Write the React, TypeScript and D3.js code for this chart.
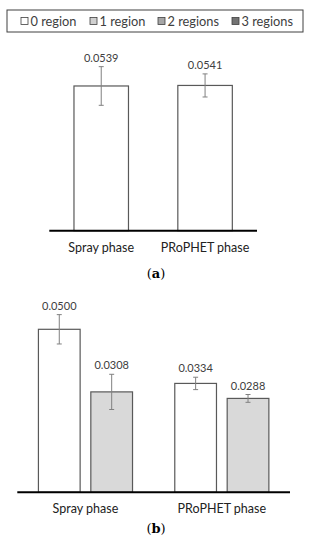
import { useEffect, useRef } from "react";
import * as d3 from "d3";

// Données
const groups = ["Spray phase", "PRoPHET phase"];
const legendLabels = ["0 region", "1 region", "2 regions", "3 regions"];
const legendColors = ["#ffffff", "#d0d0d0", "#a6a6a6", "#737373"];

// (a) : une seule série
const valuesA0 = [0.0539, 0.0541];
const errorsA0 = [0.0072, 0.0043];

// (b) : deux séries
const valuesB0 = [0.05, 0.0334];
const errorsB0 = [0.0045, 0.0019];
const valuesB1 = [0.0308, 0.0288];
const errorsB1 = [0.0054, 0.0012];

const width = 312;
const height = 550;
const font = "Lato, 'Open Sans', sans-serif";
const textColor = "#404040";

const fmt = d3.format(".4f");

type Series = { name: string; values: number[]; errors: number[] };

const drawPanel = (
    svg: d3.Selection<SVGSVGElement, unknown, null, undefined>,
    series: Series[],
    opts: { x0: number; x1: number; axisY: number; pxPerUnit: number; barW: number; gap: number; labelDy: number; caption: string; captionY: number },
) => {
    const x = d3.scaleBand<string>().domain(groups).range([opts.x0, opts.x1]).padding(0);
    const span = series.length * opts.barW + (series.length - 1) * opts.gap;
    const inner = d3.scaleBand<string>()
        .domain(series.map(s => s.name))
        .range([-span / 2, span / 2])
        .paddingInner(series.length > 1 ? opts.gap / (opts.barW + opts.gap) : 0);
    const y = d3.scaleLinear().domain([0, 0.06]).range([opts.axisY, opts.axisY - 0.06 * opts.pxPerUnit]);
    const color = d3.scaleOrdinal<string, string>().domain(legendLabels).range(legendColors);

    const g = svg.append("g");

    series.forEach(s => {
        const bars = groups.map((grp, i) => ({ grp, v: s.values[i], e: s.errors[i] }));
        const sg = g.append("g");
        sg.selectAll("rect")
            .data(bars)
            .join("rect")
            .attr("x", d => x(d.grp)! + x.bandwidth() / 2 + inner(s.name)!)
            .attr("y", d => y(d.v))
            .attr("width", inner.bandwidth())
            .attr("height", d => y(0) - y(d.v))
            .attr("fill", s.name === "1 region" ? "#d9d9d9" : color(s.name))
            .attr("stroke", "#595959")
            .attr("stroke-width", 1.2);

        const cx = (d: { grp: string }) => x(d.grp)! + x.bandwidth() / 2 + inner(s.name)! + inner.bandwidth() / 2;

        // Barres d'erreur
        const eb = sg.append("g").attr("stroke", "#808080").attr("stroke-width", 1);
        eb.selectAll("line.v").data(bars).join("line").attr("class", "v")
            .attr("x1", cx).attr("x2", cx)
            .attr("y1", d => y(d.v + d.e)).attr("y2", d => y(d.v - d.e));
        eb.selectAll("line.t").data(bars).join("line").attr("class", "t")
            .attr("x1", d => cx(d) - 2.5).attr("x2", d => cx(d) + 2.5)
            .attr("y1", d => y(d.v + d.e)).attr("y2", d => y(d.v + d.e));
        eb.selectAll("line.b").data(bars).join("line").attr("class", "b")
            .attr("x1", d => cx(d) - 2.5).attr("x2", d => cx(d) + 2.5)
            .attr("y1", d => y(d.v - d.e)).attr("y2", d => y(d.v - d.e));

        // Étiquettes de valeur
        sg.selectAll("text")
            .data(bars)
            .join("text")
            .attr("x", cx)
            .attr("y", d => y(d.v + d.e) - opts.labelDy)
            .attr("text-anchor", "middle")
            .attr("font-family", font)
            .attr("font-size", 11)
            .attr("fill", textColor)
            .text(d => fmt(d.v));
    });

    // Axe horizontal
    g.append("line")
        .attr("x1", opts.x0).attr("x2", opts.x1)
        .attr("y1", y(0)).attr("y2", y(0))
        .attr("stroke", "#000").attr("stroke-width", 2);

    g.selectAll("text.cat")
        .data(groups)
        .join("text")
        .attr("class", "cat")
        .attr("x", d => x(d)! + x.bandwidth() / 2)
        .attr("y", y(0) + 21)
        .attr("text-anchor", "middle")
        .attr("font-family", font)
        .attr("font-size", 12.5)
        .attr("fill", "#222")
        .text(d => d);

    const cap = g.append("text")
        .attr("x", 156)
        .attr("y", opts.captionY)
        .attr("text-anchor", "middle")
        .attr("font-family", "'DejaVu Serif', serif")
        .attr("font-size", 13)
        .attr("fill", "#000");
    cap.append("tspan").text("(");
    cap.append("tspan").attr("font-weight", "bold").text(opts.caption);
    cap.append("tspan").text(")");
};

const drawChart = (node: SVGSVGElement) => {
    const svg = d3.select(node);
    svg.selectAll("*").remove();

    // Légende
    const legend = svg.append("g");
    legend.append("rect")
        .attr("x", 7).attr("y", 10).attr("width", 296).attr("height", 22)
        .attr("fill", "#fff").attr("stroke", "#404040").attr("stroke-width", 1);
    const legendX = [21, 90, 158, 232];
    legendLabels.forEach((name, i) => {
        legend.append("rect")
            .attr("x", legendX[i]).attr("y", 17.5).attr("width", 7).attr("height", 7)
            .attr("fill", legendColors[i]).attr("stroke", "#404040").attr("stroke-width", 0.8);
        legend.append("text")
            .attr("x", legendX[i] + 9.5).attr("y", 25.5)
            .attr("font-family", font).attr("font-size", 12.8).attr("fill", textColor)
            .text(name);
    });

    drawPanel(svg, [{ name: "0 region", values: valuesA0, errors: errorsA0 }], {
        x0: 49.3, x1: 257, axisY: 230.7, pxPerUnit: 2685, barW: 54.5, gap: 0, labelDy: 5, caption: "a", captionY: 278,
    });

    drawPanel(svg, [
        { name: "0 region", values: valuesB0, errors: errorsB0 },
        { name: "1 region", values: valuesB1, errors: errorsB1 },
    ], {
        x0: 17.3, x1: 290, axisY: 492.3, pxPerUnit: 3260, barW: 41.7, gap: 10.7, labelDy: 5, caption: "b", captionY: 533,
    });
};

export default function App() {
    const ref = useRef<SVGSVGElement>(null);
    useEffect(() => {
        if (ref.current) drawChart(ref.current);
    }, []);
    return (
        <svg ref={ref} width={width} height={height}
            style={{ position: "absolute", left: 0, top: 0, background: "#fff" }} />
    );
}
